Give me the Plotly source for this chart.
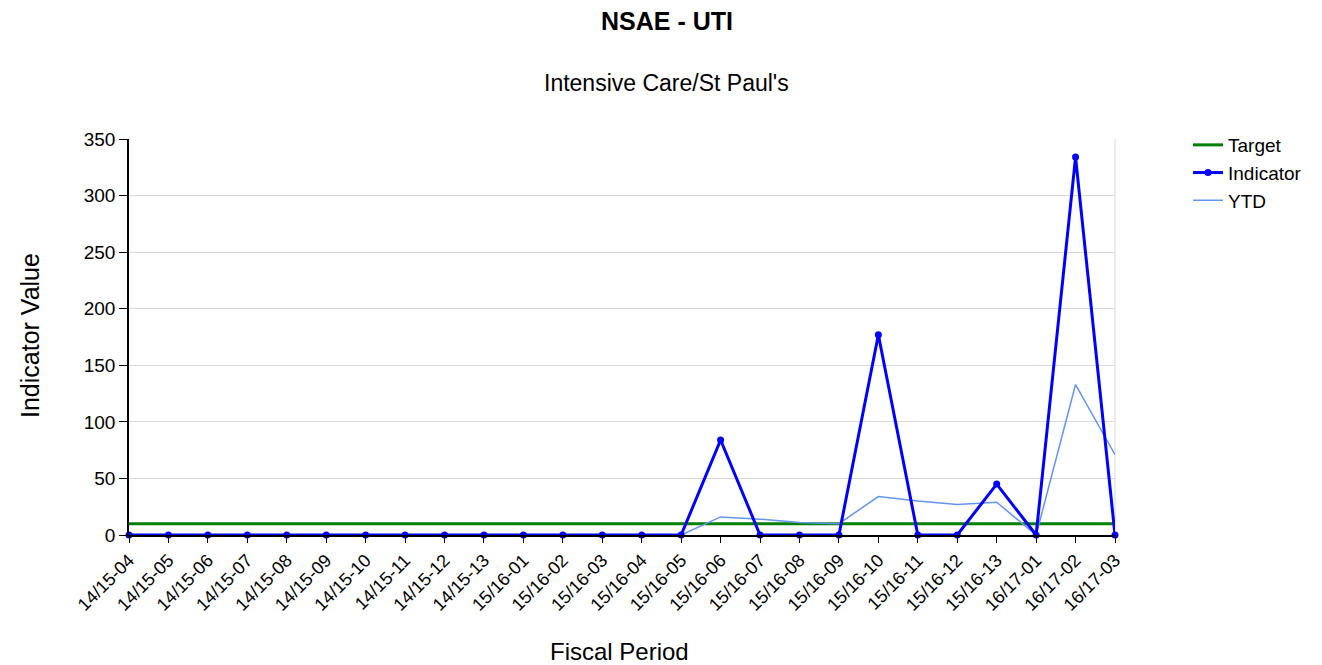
import plotly.graph_objects as go

periods = ['14/15-04', '14/15-05', '14/15-06', '14/15-07', '14/15-08', '14/15-09',
           '14/15-10', '14/15-11', '14/15-12', '14/15-13',
           '15/16-01', '15/16-02', '15/16-03', '15/16-04', '15/16-05', '15/16-06',
           '15/16-07', '15/16-08', '15/16-09', '15/16-10', '15/16-11', '15/16-12',
           '15/16-13', '16/17-01', '16/17-02', '16/17-03']

target = [10] * 26
indicator = [0, 0, 0, 0, 0, 0, 0, 0, 0, 0,
             0, 0, 0, 0, 0, 84, 0, 0, 0, 177, 0, 0, 45,
             0, 334, 0]
ytd = [0, 0, 0, 0, 0, 0, 0, 0, 0, 0,
       0, 0, 0, 0, 0, 16, 14, 11, 10, 34, 30, 27, 29,
       0, 133, 71]

# page has an 8px body margin, so work in reference pixels minus 8
OFF = 8
W, H = 1322 - OFF, 665 - OFF
L, T = 129 - OFF, 139 - OFF
pw, ph = 986, 396
R, B = W - L - pw, H - T - ph
font = 'Liberation Sans, Arial, sans-serif'


def px(x):
    return (x - OFF - L) / pw


def py(y):
    return (T + ph - (y - OFF)) / ph


fig = go.Figure()
fig.add_trace(go.Scatter(x=periods, y=target, name='Target', mode='lines',
                         line=dict(color='#008000', width=3), legendrank=1))
fig.add_trace(go.Scatter(x=periods, y=ytd, name='YTD', mode='lines',
                         line=dict(color='#6495ED', width=1.5), legendrank=3))
fig.add_trace(go.Scatter(x=periods, y=indicator, name='Indicator', mode='lines+markers',
                         line=dict(color='#0000FF', width=3),
                         marker=dict(color='#0000FF', size=7), cliponaxis=False,
                         legendrank=2))

fig.update_layout(
    width=W, height=H,
    margin=dict(l=L, r=R, t=T, b=B),
    paper_bgcolor='white', plot_bgcolor='white',
    font=dict(family=font, color='black', size=18),
    title=dict(text='<b>NSAE - UTI</b>', x=(667 - OFF) / W, xanchor='center',
               xref='container', yref='container', y=1 - (21 - OFF) / H, yanchor='middle',
               font=dict(size=25)),
    showlegend=True,
    legend=dict(x=px(1188), y=py(126), xanchor='left', yanchor='top',
                font=dict(size=19), tracegroupgap=0, itemwidth=30,
                bgcolor='rgba(0,0,0,0)'),
    annotations=[
        dict(text="Intensive Care/St Paul's", xref='paper', yref='paper',
             x=px(666), y=py(83), xanchor='center', yanchor='middle',
             showarrow=False, font=dict(size=23)),
        dict(text='Indicator Value', xref='paper', yref='paper',
             x=px(30), y=py(336), xanchor='center', yanchor='middle',
             textangle=-90, showarrow=False, font=dict(size=25)),
        dict(text='Fiscal Period', xref='paper', yref='paper',
             x=px(619), y=py(651), xanchor='center', yanchor='middle',
             showarrow=False, font=dict(size=24)),
    ],
    # faint right border of the plot area
    shapes=[dict(type='line', xref='paper', yref='paper', x0=1, x1=1, y0=0, y1=1,
                 line=dict(color='#d8d8d8', width=1), layer='below')],
)

fig.update_xaxes(
    type='category', range=[0, len(periods) - 1],
    showline=True, linecolor='black', linewidth=1.5,
    ticks='outside', ticklen=6, tickcolor='black',
    tickangle=-45, tickfont=dict(size=18),
    showgrid=False, mirror=False, zeroline=False,
)
fig.update_yaxes(
    range=[0, 350], dtick=50,
    showline=True, linecolor='black', linewidth=1.5,
    ticks='outside', ticklen=8, tickcolor='black',
    tickfont=dict(size=19),
    showgrid=True, gridcolor='#d8d8d8', gridwidth=1, zeroline=False,
)

fig.write_html('out.html')
